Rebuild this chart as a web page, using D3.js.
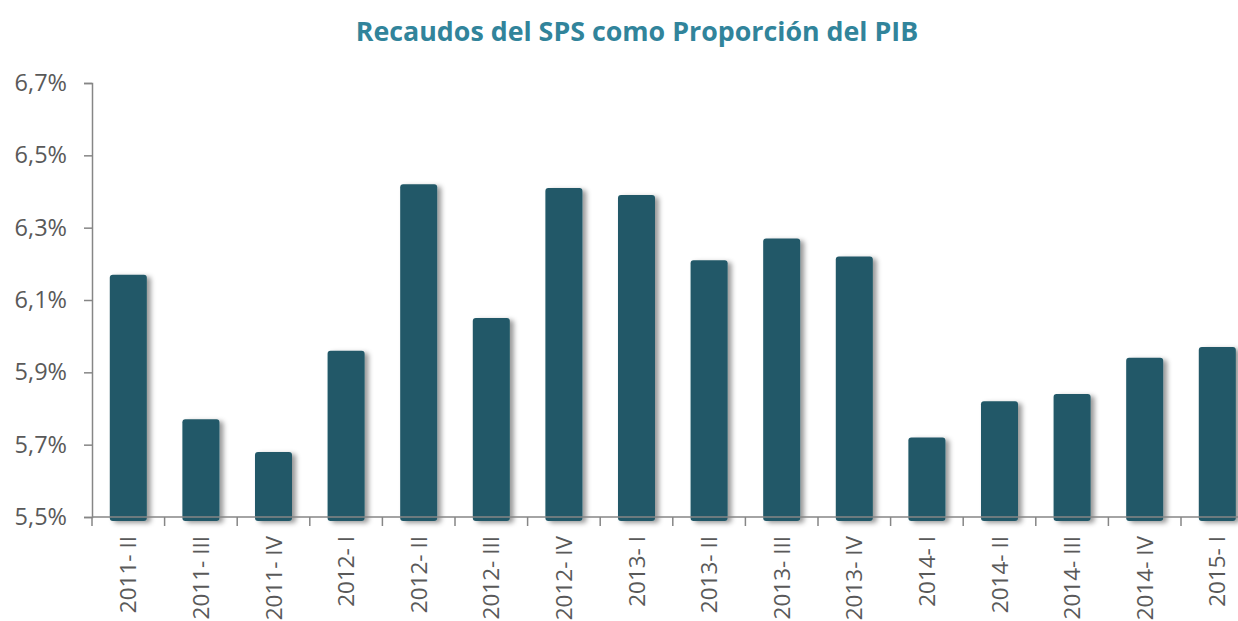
<!DOCTYPE html>
<html>
<head>
<meta charset="utf-8">
<script src="https://cdn.jsdelivr.net/npm/d3@7"></script>
<style>
  body { margin: 0; background: #fff; }
  text { font-family: "Open Sans", sans-serif; }
</style>
</head>
<body>
<div id="my_dataviz"></div>
<script>
var periods = ["2011- II","2011- III","2011- IV","2012- I","2012- II","2012- III","2012- IV","2013- I",
               "2013- II","2013- III","2013- IV","2014- I","2014- II","2014- III","2014- IV","2015- I"]
var recaudos = [6.17, 5.77, 5.68, 5.96, 6.42, 6.05, 6.41, 6.39, 6.21, 6.27, 6.22, 5.72, 5.82, 5.84, 5.94, 5.97]
var yTicks = [5.5, 5.7, 5.9, 6.1, 6.3, 6.5, 6.7]

var W = 1238, H = 621
var margin = {top: 83, left: 92, bottom: 104}
var plotH = H - margin.top - margin.bottom   // 434
var band = 72.6

var svg = d3.select("#my_dataviz")
  .append("svg")
    .attr("width", W)
    .attr("height", H)

// shadow for the bars
var defs = svg.append("defs")
var f = defs.append("filter").attr("id", "shadow")
    .attr("x", "-20%").attr("y", "-10%").attr("width", "160%").attr("height", "130%")
f.append("feDropShadow")
    .attr("dx", 4).attr("dy", 2).attr("stdDeviation", 2.5)
    .attr("flood-color", "#000").attr("flood-opacity", 0.4)

var g = svg.append("g")
    .attr("transform", "translate(" + margin.left + "," + margin.top + ")")

var x = d3.scaleBand()
  .domain(periods)
  .range([0, band * periods.length])
  .paddingInner(0.49)
  .paddingOuter(0.245)

var y = d3.scaleLinear()
  .domain([5.5, 6.7])
  .range([plotH, 0])

// title
svg.append("text")
    .attr("x", 637)
    .attr("y", 41)
    .attr("text-anchor", "middle")
    .style("font-size", "26.8px")
    .style("font-weight", "bold")
    .style("fill", "#31849b")
    .text("Recaudos del SPS como Proporción del PIB")

// bars
g.append("g")
  .selectAll("rect")
  .data(recaudos)
  .enter()
  .append("rect")
    .attr("x", function(d, i) { return x(periods[i]) })
    .attr("y", function(d) { return y(d) })
    .attr("width", x.bandwidth())
    .attr("height", function(d) { return plotH - y(d) + 4 })
    .attr("rx", 3)
    .attr("fill", "#215968")
    .attr("filter", "url(#shadow)")

// Y axis
var yAxis = g.append("g")
  .call(d3.axisLeft(y).tickValues(yTicks).tickSize(8).tickPadding(17)
        .tickFormat(function(d) { return d3.format(".1f")(d).replace(".", ",") + "%" }))
yAxis.select(".domain").attr("stroke", "#868686").attr("stroke-width", 1.5)
yAxis.selectAll(".tick line").attr("stroke", "#868686").attr("stroke-width", 1.5)
yAxis.selectAll(".tick text")
    .style("font-size", "23.5px")
    .style("fill", "#595959")
    .style("font-family", "Open Sans, sans-serif")

// X axis line with tick marks between categories
var xg = g.append("g").attr("transform", "translate(0," + plotH + ")")
xg.append("line")
    .attr("x1", 0).attr("x2", band * periods.length)
    .attr("stroke", "#868686").attr("stroke-width", 1.5)
xg.selectAll(".sep")
  .data(d3.range(periods.length + 1))
  .enter()
  .append("line")
    .attr("x1", function(i) { return i * band })
    .attr("x2", function(i) { return i * band })
    .attr("y1", 0).attr("y2", 9)
    .attr("stroke", "#868686").attr("stroke-width", 1.5)

xg.selectAll(".lbl")
  .data(periods)
  .enter()
  .append("text")
    .attr("transform", function(d) {
      return "translate(" + (x(d) + x.bandwidth() / 2 + 8) + ",19) rotate(-90)" })
    .attr("text-anchor", "end")
    .style("font-size", "22.5px")
    .style("fill", "#595959")
    .text(function(d) { return d })
</script>
</body>
</html>
